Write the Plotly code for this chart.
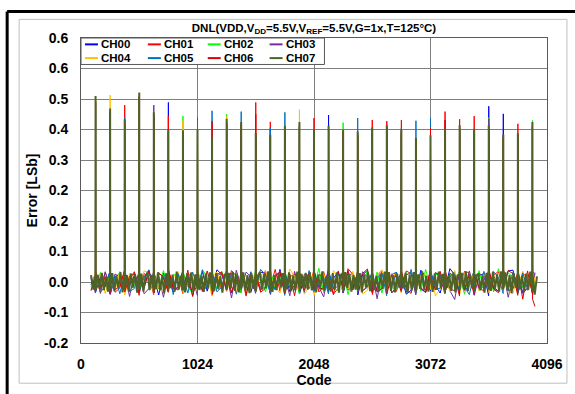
import plotly.graph_objects as go

# ---------------- data ----------------
channels = ["CH00", "CH01", "CH02", "CH03", "CH04", "CH05", "CH06", "CH07"]
colors = ["#0000ff", "#ff0000", "#00ff00", "#7030a0", "#ffc000", "#0070c0", "#dd0000", "#4f6228"]

x_tick_vals = [0, 1024, 2048, 3072, 4096]
x_tick_text = ["0", "1024", "2048", "3072", "4096"]
y_tick_vals = [-0.16, -0.08, 0.0, 0.08, 0.16, 0.24, 0.32, 0.40, 0.48, 0.56, 0.64]
y_tick_text = ["-0.2", "-0.1", "0.0", "0.1", "0.2", "0.2", "0.3", "0.4", "0.5", "0.6", "0.6"]

# major-carry codes (every 128 codes) where the DNL spikes occur
spike_codes = list(range(128, 3969, 128))
# codes at which the between-spike noise is sampled (CH07 finer, other channels coarser)
fine_offsets = [1, 19, 37, 55, 73, 91, 109, 127]
coarse_offsets = [1, 43, 85, 127]
codes_fine = [88, 108, 127] + [128 * k + o for k in range(1, 31) for o in fine_offsets] + [3969, 3988, 4008]
codes_coarse = [88, 127] + [128 * k + o for k in range(1, 31) for o in coarse_offsets] + [3969, 3990]

# noise between spikes, in milli-LSb
ch00_noise_mlsb = [-8, 22, -26, 14, -12, 28, -31, 10, 24, -18, 27, -9,
                   15, -28, 19, -14, 31, -20, 11, -34, 24, -7, 18, -26,
                   -12, 29, -21, 16, -36, 21, -10, 27, -24, 13, -19, 32,
                   20, -16, 25, -29, 9, -22, 28, -13, -27, 17, -11, 26,
                   23, -30, 14, -18, 33, -15, 21, -25, -9, 27, -31, 12,
                   18, -24, 29, -14, -20, 34, -17, 10, 26, -28, 15, -21,
                   -13, 22, -34, 19, 30, -11, 24, -26, -18, 28, -15, 20,
                   25, -19, 12, -32, -22, 16, -28, 31, 14, -23, 27, -10,
                   -29, 21, -16, 35, 19, -25, 11, -20, -12, 30, -27, 17,
                   22, -36, 26, -14, -24, 18, -11, 29, 31, -17, 13, -28,
                   -15, 27, -22, -18]
ch01_noise_mlsb = [12, -24, 18, -30, 25, -11, 20, -27, -16, 31, -22, 9,
                   27, -13, -29, 22, 14, -33, 26, -18, 11, -25, 30, -12,
                   19, -31, 23, -9, -26, 15, 32, -20, -14, 28, -35, 17,
                   -21, 24, -12, 30, 16, -28, 20, -37, 25, -15, 9, -23,
                   29, -19, -11, 33, -24, 18, -30, 13, 21, -27, 26, -10,
                   -18, 31, -25, 14, 27, -21, 12, -32, -16, 24, -29, 35,
                   20, -14, 28, -23, -12, 26, -33, 18, 30, -20, 15, -26,
                   -24, 19, -13, 29, 22, -31, 17, -15, -28, 33, -19, 25,
                   13, -27, 31, -18, -23, 21, -14, 28, 24, -34, 16, -20,
                   -11, 30, -25, 19, 27, -16, 34, -22, -19, 26, -30, 21,
                   15, -24, 28, 20]
ch02_noise_mlsb = [-14, 17, -21, 25, -10, 19, -28, 13, 22, -16, 29, -23,
                   -9, 26, -19, 14, 24, -27, 11, -17, 30, -12, -25, 20,
                   16, -22, 27, -13, -30, 18, -15, 33, 12, -26, 21, -18,
                   28, -11, -24, 19, 23, -29, 14, -20, -17, 31, -13, 22,
                   -26, 15, 32, -21, 10, -23, 27, -16, 18, -31, 24, -12,
                   21, -18, -14, 36, -28, 13, 25, -19, -22, 17, 29, -33,
                   14, -25, 20, -12, 31, -21, -17, 26, -29, 15, 23, -14,
                   -20, 28, -16, 24, 12, -30, 19, -24, 33, -13, -21, 18,
                   26, -15, -27, 22, -11, 29, 17, -32, 25, -18, -14, 30,
                   -23, 16, 21, -26, 35, -12, -18, 24, 13, -28, 27, -15,
                   19, -20, 31, -16]
ch03_noise_mlsb = [10, -29, 16, -20, 27, -15, -33, 21, 13, -25, 18, -38,
                   24, -12, 20, -31, -17, 28, -22, 15, -40, 19, 26, -14,
                   -21, 30, -16, 23, 11, -35, 25, -19, -13, 29, -27, 16,
                   22, -24, 18, -42, 31, -11, -20, 26, 14, -30, 21, -17,
                   -15, 27, -33, 19, 24, -21, 12, -36, 28, -14, -23, 20,
                   17, -28, 25, -13, -39, 22, 29, -18, -11, 31, -26, 15,
                   23, -20, -30, 27, 13, -24, 19, -44, 26, -16, 21, -29,
                   -12, 30, -22, 18, 25, -34, 14, -19, -27, 28, -15, 24,
                   20, -31, 16, -23, -46, 26, 18, -21, 29, -13, -35, 22,
                   15, -27, 31, -18, -24, 20, 27, -40, 12, -22, 25, -30,
                   -17, 28, -33, 25]
ch04_noise_mlsb = [-20, 26, -13, 21, -30, 17, 12, -24, 28, -19, -34, 23,
                   16, -21, -12, 29, 25, -30, 18, -15, -26, 32, -18, 11,
                   27, -14, -31, 20, 15, -23, 30, -17, 22, -37, 13, 26,
                   -16, 29, -22, 12, -27, 24, 19, -33, -11, 27, -20, 16,
                   31, -25, 17, -12, -29, 22, -18, 34, 14, -21, 28, -32,
                   -13, 24, -35, 18, 21, -16, -26, 30, 11, -23, 20, -19,
                   28, -12, 16, -31, -22, 25, -14, 19, 32, -27, -17, 23,
                   18, -29, 26, -21, -13, 31, -24, 15, 20, -18, 29, -36,
                   -19, 22, 13, -26, 30, -15, -31, 24, -12, 27, 16, -23,
                   25, -20, -28, 17, -14, 33, 21, -25, -30, 19, -13, 28,
                   -22, 18, -26, 14]
ch05_noise_mlsb = [15, -18, 23, -27, -11, 29, -22, 16, -31, 20, 12, -25,
                   -17, 27, -24, 13, 32, -19, -28, 21, 16, -14, 25, -33,
                   22, -20, 14, -29, 26, -12, -23, 31, -18, 17, 28, -26,
                   -13, 30, -19, 24, -32, 15, 21, -16, 27, -24, -12, 33,
                   19, -28, 12, -21, 29, -35, 23, -14, -20, 26, 17, -27,
                   30, -15, -24, 20, 13, -31, 27, -18, 22, -12, -29, 25,
                   -21, 16, 32, -23, -14, 28, -19, 12, 24, -36, 18, -13,
                   26, -22, 15, -28, 33, -17, -11, 23, -26, 19, 30, -20,
                   -16, 31, -24, 14, 21, -29, 25, -13, -33, 18, 22, -17,
                   28, -14, -21, 27, 12, -30, 19, -23, 26, -15, -28, 24,
                   -19, 23, -27, -21]
ch06_noise_mlsb = [-23, 19, 27, -16, 13, -31, 24, -20, -12, 30, -26, 15,
                   21, -35, 17, -14, 28, -22, -29, 25, 12, -27, 33, -18,
                   -15, 24, -20, 31, -38, 16, 22, -25, 29, -13, -32, 20,
                   26, -21, 14, -29, 19, -12, 31, -34, 18, -19, 24, -27,
                   -17, 32, -23, 15, 27, -30, -14, 21, -36, 28, 13, -22,
                   23, -19, 30, -26, -13, 25, 18, -33, 29, -16, -22, 31,
                   -20, 27, -11, 22, 34, -28, 15, -24, -17, 26, -31, 19,
                   13, -25, 29, -18, -30, 24, 20, -15, -27, 32, 16, -21,
                   28, -17, -26, 23, 14, -37, 31, -22, 19, -28, 25, -14,
                   -24, 21, 33, -19, -28, 26, -16, 30, 22, -35, 27, -45,
                   29, -30, -45, -64]
ch07_noise_mlsb = [18, -20, 16,
                   -22, 19, -17, 24, -21, 15, -25, 20,
                   -18, 23, -24, 17, -16, 26, -27, 21,
                   -20, 18, -26, 22, -15, 20, -28, 25,
                   -17, 22, -25, 16, 24, -21, 19, -23,
                   21, -18, 25, -22, 15, -29, 23, -19,
                   24, -16, 19, -25, 27, -20, 17, -22,
                   19, -27, 22, -15, 25, -23, 20, -18,
                   27, -21, 16, -26, 22, -17, 25, -22,
                   18, -24, 23, -19, 15, -28, 21, 16,
                   -20, 24, -17, 26, -23, 19, -27, 21,
                   -16, 25, -22, 18, -29, 22, -18, 24,
                   -25, 17, 26, -20, 21, -16, 28, -24,
                   20, -26, 18, -21, 24, -15, 23, -27,
                   22, -19, 25, -24, 16, -22, 27, -17,
                   -25, 21, -16, 24, -20, 26, -22, 18,
                   23, -27, 19, -18, 28, -23, 15, -21,
                   17, -25, 23, -19, 25, -28, 21, 16,
                   -22, 26, -16, 21, -25, 18, -20, 28,
                   -18, 23, -27, 20, -15, 25, -24, 19,
                   25, -21, 16, -26, 22, -18, 27, -22,
                   -19, 26, -23, 17, -27, 21, -15, 23,
                   21, -17, 24, -28, 19, -22, 26, -18,
                   -24, 20, -18, 28, -21, 16, -25, 22,
                   18, -26, 22, -20, 27, -16, 21, -29,
                   24, -15, 19, -23, 25, -27, 17, 21,
                   -21, 24, -19, 27, -24, 20, -16, 25,
                   -26, 17, 22, -22, 16, -28, 24, -19,
                   21, -23, 27, -18, 20, -25, 28, -20,
                   -17, 25, -22, 18, -29, 23, -15, 21,
                   26, -19, 16, -24, 22, -21, 27, -26,
                   19, -33, 15]

# spike heights (LSb) at codes 128, 256, ..., 3968
ch00_spikes = [0.470, 0.440, 0.415, 0.480, 0.430, 0.471, 0.390, 0.385, 0.365, 0.415, 0.405,
               0.375, 0.370, 0.395, 0.405, 0.385, 0.438, 0.385, 0.380, 0.390, 0.398,
               0.388, 0.365, 0.370, 0.390, 0.398, 0.388, 0.461, 0.441, 0.375, 0.405]
ch01_spikes = [0.475, 0.445, 0.464, 0.485, 0.432, 0.435, 0.385, 0.388, 0.368, 0.418, 0.408,
               0.471, 0.420, 0.398, 0.408, 0.430, 0.400, 0.388, 0.383, 0.425, 0.422,
               0.425, 0.368, 0.372, 0.447, 0.427, 0.435, 0.400, 0.376, 0.415, 0.408]
ch02_spikes = [0.468, 0.442, 0.418, 0.482, 0.434, 0.390, 0.435, 0.390, 0.370, 0.440, 0.410,
               0.378, 0.372, 0.400, 0.410, 0.390, 0.398, 0.418, 0.385, 0.395, 0.400,
               0.390, 0.370, 0.375, 0.392, 0.400, 0.392, 0.431, 0.378, 0.380, 0.424]
ch03_spikes = [0.472, 0.444, 0.412, 0.478, 0.464, 0.392, 0.388, 0.431, 0.366, 0.416, 0.406,
               0.376, 0.400, 0.396, 0.406, 0.388, 0.396, 0.386, 0.382, 0.392, 0.396,
               0.386, 0.366, 0.372, 0.390, 0.398, 0.390, 0.428, 0.376, 0.378, 0.406]
ch04_spikes = [0.478, 0.490, 0.420, 0.486, 0.436, 0.394, 0.424, 0.392, 0.372, 0.434, 0.412,
               0.380, 0.374, 0.402, 0.452, 0.392, 0.400, 0.390, 0.386, 0.396, 0.402,
               0.392, 0.372, 0.376, 0.394, 0.402, 0.394, 0.402, 0.380, 0.382, 0.410]
ch05_spikes = [0.474, 0.446, 0.433, 0.484, 0.433, 0.393, 0.392, 0.425, 0.449, 0.420, 0.447,
               0.382, 0.405, 0.445, 0.410, 0.390, 0.402, 0.392, 0.430, 0.398, 0.404,
               0.405, 0.423, 0.430, 0.396, 0.404, 0.396, 0.404, 0.380, 0.384, 0.412]
ch06_spikes = [0.476, 0.448, 0.418, 0.488, 0.438, 0.396, 0.390, 0.394, 0.422, 0.420, 0.414,
               0.440, 0.378, 0.404, 0.412, 0.394, 0.404, 0.394, 0.388, 0.400, 0.405,
               0.395, 0.374, 0.405, 0.425, 0.405, 0.398, 0.405, 0.382, 0.386, 0.414]
ch07_spikes = [0.488, 0.455, 0.427, 0.497, 0.445, 0.400, 0.398, 0.400, 0.378, 0.428, 0.420,
               0.390, 0.386, 0.410, 0.420, 0.400, 0.410, 0.400, 0.395, 0.405, 0.411,
               0.400, 0.378, 0.385, 0.402, 0.411, 0.402, 0.411, 0.387, 0.390, 0.420]

noise_lists = [ch00_noise_mlsb, ch01_noise_mlsb, ch02_noise_mlsb, ch03_noise_mlsb,
               ch04_noise_mlsb, ch05_noise_mlsb, ch06_noise_mlsb, ch07_noise_mlsb]
spike_lists = [ch00_spikes, ch01_spikes, ch02_spikes, ch03_spikes,
               ch04_spikes, ch05_spikes, ch06_spikes, ch07_spikes]

# ---------------- figure ----------------
FONT = "Liberation Sans, Arial, sans-serif"
fig = go.Figure()

for name, color, nz, sp in zip(channels, colors, noise_lists, spike_lists):
    base = codes_fine if name == "CH07" else codes_coarse
    pts = [(c, v / 1000.0) for c, v in zip(base, nz)] + list(zip(spike_codes, sp))
    pts.sort(key=lambda p: p[0])
    fig.add_trace(go.Scatter(
        x=[p[0] for p in pts], y=[p[1] for p in pts],
        mode="lines", name=name, showlegend=False,
        line=dict(color=color, width=2.0 if name == "CH07" else 1.0),
    ))

fig.update_layout(
    width=575, height=394,
    margin=dict(l=81, r=27, t=38, b=45),
    paper_bgcolor="white", plot_bgcolor="white",
    font=dict(family=FONT, color="black"),
    showlegend=False,
    title=dict(
        text="DNL(VDD,V<sub>DD</sub>=5.5V,V<sub>REF</sub>=5.5V,G=1x,T=125°C)",
        font=dict(family=FONT, size=11.5, weight="bold", color="black"),
        x=0.5, xref="paper", xanchor="center",
        y=1 - 24 / 394, yref="container", yanchor="top",
    ),
)

fig.update_xaxes(
    range=[0, 4096], tickvals=x_tick_vals, ticktext=x_tick_text,
    showgrid=True, gridcolor="#7f7f7f", gridwidth=1, zeroline=False,
    showline=True, linecolor="#595959", linewidth=1, mirror=True,
    ticks="", ticklabelstandoff=8,
    tickfont=dict(family=FONT, size=14, weight="bold", color="black"),
    title=dict(text="Code", font=dict(family=FONT, size=14, weight="bold", color="black"), standoff=0),
)
fig.update_yaxes(
    range=[-0.16, 0.64], tickvals=y_tick_vals, ticktext=y_tick_text,
    showgrid=True, gridcolor="#7f7f7f", gridwidth=1, zeroline=False,
    showline=True, linecolor="#595959", linewidth=1, mirror=True,
    ticks="", ticklabelstandoff=9,
    tickfont=dict(family=FONT, size=14, weight="bold", color="black"),
    title=dict(text="Error [LSb]", font=dict(family=FONT, size=14, weight="bold", color="black"), standoff=3),
)

W, H = 467.0, 311.0
L, T = 81.0, 38.0
def px(xp):
    return (xp - L) / W
def py(yp):
    return (T + H - yp) / H

shapes = []
# outer black frame: only its left and top edges fall inside the picture
shapes.append(dict(type="line", xref="paper", yref="paper",
                   x0=px(7), x1=px(7), y0=py(430), y1=py(11),
                   line=dict(color="black", width=3), layer="above"))
shapes.append(dict(type="line", xref="paper", yref="paper",
                   x0=px(7), x1=px(600), y0=py(11), y1=py(11),
                   line=dict(color="black", width=3), layer="above"))
# chart-area frame
shapes.append(dict(type="rect", xref="paper", yref="paper",
                   x0=px(19), x1=px(568), y0=py(390), y1=py(19),
                   line=dict(color="#bfbfbf", width=1), fillcolor="rgba(0,0,0,0)", layer="below"))
# legend box
shapes.append(dict(type="rect", xref="paper", yref="paper",
                   x0=px(81), x1=px(325), y0=py(65), y1=py(38),
                   line=dict(color="#595959", width=1), fillcolor="white", layer="above"))

annotations = []
col_x = [85, 148, 208, 270]
row_y = [44.5, 58.5]
for i, (name, color) in enumerate(zip(channels, colors)):
    r, c = divmod(i, 4)
    x0 = col_x[c]
    y0 = row_y[r]
    shapes.append(dict(type="line", xref="paper", yref="paper",
                       x0=px(x0), x1=px(x0 + 13), y0=py(y0), y1=py(y0),
                       line=dict(color=color, width=2), layer="above"))
    annotations.append(dict(text=name, xref="paper", yref="paper",
                            x=px(x0 + 14), y=py(y0), xanchor="left", yanchor="middle",
                            showarrow=False,
                            font=dict(family=FONT, size=11.5, weight="bold", color="black")))

fig.update_layout(shapes=shapes, annotations=annotations)

# remove the browser's default 8px page margin so the figure sits at the window origin
fig.write_html("out.html", config={"displayModeBar": False},
               post_script="document.body.style.margin='0px';")
